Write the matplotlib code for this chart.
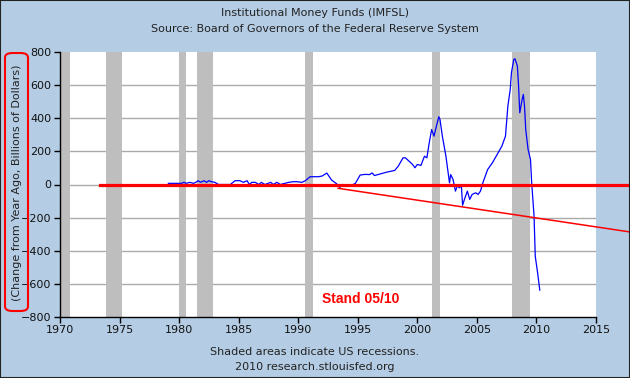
import matplotlib
matplotlib.use("Agg")
from matplotlib import pyplot as plt
from matplotlib.patches import FancyBboxPatch, Rectangle

# monthly-ish readings of the IMFSL change from year ago (billions)
years = [1979.1, 1980.2, 1980.4, 1980.6, 1980.9, 1981.2, 1981.4, 1981.6, 1981.8, 1982.1,
         1982.3, 1982.5, 1982.7, 1983.0, 1983.3, 1984.3, 1984.7, 1985.1, 1985.4, 1985.7,
         1985.9, 1986.1, 1986.4, 1986.7, 1986.9, 1987.2, 1987.7, 1987.9, 1988.2, 1988.5,
         1989.2, 1989.6, 1989.9, 1990.3, 1990.6, 1991.0, 1991.7, 1992.0, 1992.4, 1992.8,
         1993.3, 1993.5, 1993.7, 1994.0, 1994.4, 1994.8, 1995.2, 1995.6, 1996.0, 1996.2,
         1996.4, 1997.4, 1998.1, 1998.4, 1998.8, 1999.0, 1999.6, 1999.8, 2000.0, 2000.3,
         2000.6, 2000.8, 2001.0, 2001.2, 2001.4, 2001.6, 2001.8, 2001.9, 2002.1, 2002.4,
         2002.7, 2002.8, 2003.0, 2003.2, 2003.4, 2003.5, 2003.7, 2003.8, 2004.0, 2004.2,
         2004.4, 2004.6, 2004.9, 2005.1, 2005.3, 2005.5, 2005.9, 2006.3, 2006.7, 2007.1,
         2007.4, 2007.6, 2007.8, 2007.9, 2008.1, 2008.2, 2008.4, 2008.5, 2008.6, 2008.8,
         2008.9, 2009.0, 2009.1, 2009.3, 2009.5, 2009.6, 2009.8, 2009.9, 2010.1, 2010.28]
values = [7, 7, 13, 7, 13, 7, 13, 23, 13, 23,
          13, 23, 17, 13, 0, 0, 23, 23, 13, 23,
          0, 13, 13, 0, 13, 0, 13, 0, 13, 0,
          13, 17, 17, 13, 23, 47, 47, 51, 69, 27,
          0, -18, 0, -8, -8, 7, 57, 61, 60, 70,
          54, 74, 85, 111, 161, 161, 121, 101, 121, 115,
          171, 161, 252, 332, 292, 352, 409, 393, 292, 171,
          10, 60, 30, -40, 0, -20, -10, -125, -80, -40,
          -90, -60, -50, -60, -40, 10, 90, 131, 181, 232,
          292, 473, 574, 675, 755, 759, 715, 594, 433, 514,
          544, 473, 332, 211, 151, 10, -191, -433, -534, -638]

recessions = [(1969.95, 1970.87), (1973.87, 1975.2), (1980.0, 1980.55), (1981.5, 1982.87),
              (1990.55, 1991.2), (2001.2, 2001.87), (2007.92, 2009.5)]

zero_line_x = [1973.4, 2017.9]
zero_line_y = [0, 0]
trend_x = [1993.35, 2017.9]
trend_y = [-23, -287]

xticks = list(range(1970, 2016, 5))
yticks = list(range(-800, 801, 200))

bg = "#B4CDE4"
fig = plt.figure(figsize=(6.3, 3.78), dpi=100, facecolor=bg)
fig.patches.append(Rectangle((0, 0), 1, 1, transform=fig.transFigure, fill=False,
                             edgecolor="#222222", linewidth=1.5))
ax = fig.add_axes([60 / 630, 1 - 317 / 378, 536 / 630, 265 / 378])
ax.set_facecolor("white")

for a, b in recessions:
    ax.axvspan(a, b, color="#BEBEBE", linewidth=0, zorder=1)
for y in yticks[1:-1]:
    ax.axhline(y, color="#AAAAAA", linewidth=1, zorder=0.5)

ax.plot(years, values, color="#0000FF", linewidth=0.9, zorder=3)
ax.plot(zero_line_x, zero_line_y, color="#FF0000", linewidth=2.3, zorder=4, clip_on=False)
ax.plot(trend_x, trend_y, color="#FF0000", linewidth=1.1, zorder=4, clip_on=False)

ax.set_xlim(1970, 2015)
ax.set_ylim(-800, 800)
ax.set_xticks(xticks)
ax.set_yticks(yticks)
ax.tick_params(labelsize=8, length=4, width=1, direction="out", pad=2, labelcolor="#111111")
for s in ["top", "right"]:
    ax.spines[s].set_visible(False)
for s in ["left", "bottom"]:
    ax.spines[s].set_linewidth(1)

fig.text(0.5, 1 - 13 / 378, "Institutional Money Funds (IMFSL)", ha="center", va="center",
         fontsize=8, color="#222222")
fig.text(0.5, 1 - 29 / 378, "Source: Board of Governors of the Federal Reserve System",
         ha="center", va="center", fontsize=8, color="#222222")
fig.text(0.5, 1 - 352 / 378, "Shaded areas indicate US recessions.", ha="center", va="center",
         fontsize=8, color="#222222")
fig.text(0.5, 1 - 367 / 378, "2010 research.stlouisfed.org", ha="center", va="center",
         fontsize=8, color="#222222")
fig.text(17 / 630, 1 - 183 / 378, "(Change from Year Ago, Billions of Dollars)", rotation=90,
         ha="center", va="center", fontsize=8, color="#222222")
fig.patches.append(FancyBboxPatch((5 / 630, 1 - 311 / 378), 23 / 630, 258 / 378,
                                  boxstyle="round,pad=0,rounding_size=0.012",
                                  transform=fig.transFigure, fill=False,
                                  edgecolor="#FF0000", linewidth=1.5))

ax.text(1992.0, -690, "Stand 05/10", color="#FF0000", fontsize=10, fontweight="bold",
        family="Liberation Sans", ha="left", va="center", zorder=5)

fig.savefig("out.png", dpi=100, facecolor=bg)
